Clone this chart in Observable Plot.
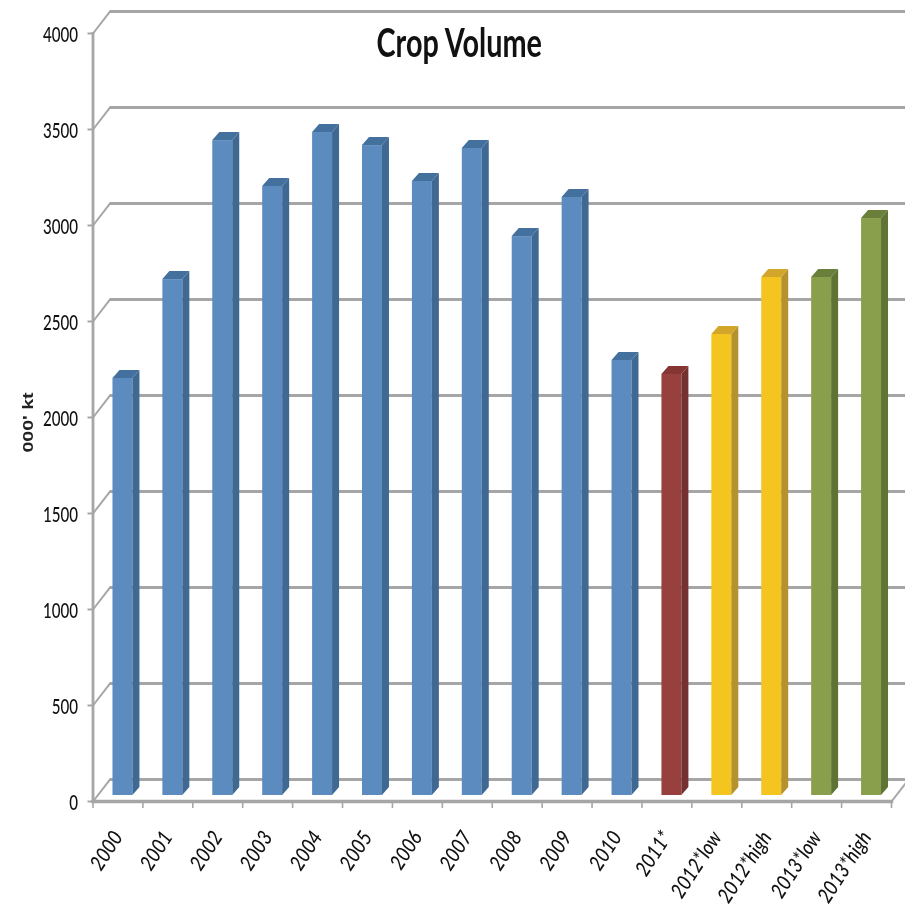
<!DOCTYPE html>
<html>
<head>
<meta charset="utf-8">
<style>
  html, body { margin: 0; padding: 0; background: #fff; }
  svg { display: block; filter: blur(0.65px); }
</style>
<script src="https://cdn.jsdelivr.net/npm/d3@7"></script>
<script src="https://cdn.jsdelivr.net/npm/@observablehq/plot@0.6"></script>
</head>
<body>
<div id="chart"></div>
<script>
const categories = ["2000","2001","2002","2003","2004","2005","2006","2007","2008","2009","2010","2011*","2012*low","2012*high","2013*low","2013*high"];
const volumes = [2172,2687,3411,3172,3453,3385,3198,3370,2911,3115,2266,2193,2401,2698,2698,3005];
const groups = ["actual","actual","actual","actual","actual","actual","actual","actual","actual","actual","actual","2011","2012","2012","2013","2013"];
const groupNames = ["actual","2011","2012","2013"];
const frontColors = ["#5c8cbf","#97403e","#f5c51f","#8a9f4b"];
const sideColors = ["#3f6892","#743130","#b5922c","#5f7434"];
const topColors = ["#44709e","#853633","#d2a62a","#6a7f3a"];
const yTicks = [0,500,1000,1500,2000,2500,3000,3500,4000];

const rows = categories.map((c, i) => ({category: c, volume: volumes[i], group: groups[i]}));
const fontFace = "Lato,'Liberation Sans',sans-serif";
const wall = "#a6a6a6";
const step = (891 - 92.5) / categories.length;

// Extrudes each bar: the side and top faces are derived from the rect the bar mark drew.
function extrude(index, scales, values, dimensions, context, next) {
  const g = next(index, scales, values, dimensions, context);
  const depthX = 7, depthY = 8;
  d3.select(g).selectAll("rect").each(function () {
    const r = d3.select(this);
    const x = +r.attr("x"), y = +r.attr("y"), w = +r.attr("width"), h = +r.attr("height");
    const k = frontColors.indexOf(r.attr("fill"));
    const parent = d3.select(this.parentNode);
    parent.append("polygon")
      .attr("points", [[x+w,y],[x+w+depthX,y-depthY],[x+w+depthX,y+h-depthY],[x+w,y+h]].join(" "))
      .attr("fill", sideColors[k]);
    parent.append("polygon")
      .attr("points", [[x,y],[x+depthX,y-depthY],[x+w+depthX,y-depthY],[x+w,y]].join(" "))
      .attr("fill", topColors[k]);
  });
  return g;
}

const diagonal = {draw(ctx, l) { ctx.moveTo(0, 0); ctx.lineTo(0, -l); }};

const chart = Plot.plot({
  width: 905,
  height: 919,
  marginLeft: 92.5,
  marginRight: 14,
  marginTop: 33,
  marginBottom: 118,
  style: {background: "#fff", overflow: "hidden"},
  x: {type: "band", domain: categories, paddingInner: 0.6, paddingOuter: 0.3, round: false, label: null},
  y: {domain: [0, 4000], label: null},
  color: {type: "ordinal", domain: groupNames, range: frontColors},
  marks: [
    // back wall gridlines and the floor edges running toward them
    Plot.ruleY(yTicks, {dx: 17, dy: -22, stroke: wall, strokeWidth: 3}),
    Plot.vector(yTicks, {y: d => d, frameAnchor: "left", anchor: "start", length: 28, rotate: 37.7, shape: diagonal, stroke: wall, strokeWidth: 2}),
    Plot.vector([0], {y: d => d, frameAnchor: "right", anchor: "start", length: 28, rotate: 37.7, shape: diagonal, stroke: wall, strokeWidth: 2}),
    Plot.frame({anchor: "left", stroke: wall, strokeWidth: 2.8}),
    Plot.frame({anchor: "bottom", stroke: wall, strokeWidth: 3.4}),

    Plot.barY(rows, {x: "category", y: "volume", fill: "group", dx: 5, dy: -6, render: extrude}),

    // value axis: tick marks, then labels
    Plot.axisY({ticks: yTicks, anchor: "left", tickSize: 5, text: null, stroke: wall, strokeWidth: 2, label: null}),
    Plot.axisY({ticks: yTicks, anchor: "left", tickSize: 0, tickPadding: 15, dy: 2, label: null,
      fontFamily: fontFace, fontSize: 21, fontWeight: 500, fill: "#111", tickFormat: d => String(d)}),

    // category axis: ticks at band edges, then slanted labels
    Plot.axisX({anchor: "bottom", tickSize: 7, text: null, dx: -step / 2, stroke: wall, strokeWidth: 1.6, label: null}),
    Plot.axisX({anchor: "bottom", ticks: [categories[categories.length - 1]], tickSize: 7, text: null, dx: step / 2, stroke: wall, strokeWidth: 1.6, label: null}),
    Plot.axisX({anchor: "bottom", tickSize: 0, tickPadding: 32, tickRotate: -57, dx: 0, label: null,
      fontFamily: fontFace, fontSize: 21, fontStyle: "italic", fontWeight: 500, fill: "#111"}),

    Plot.text(["Crop Volume"], {frameAnchor: "top", dx: -33, dy: -5, lineAnchor: "top", ariaLabel: () => "chart title",
      fontFamily: fontFace, fontWeight: 700, fontSize: 40, fill: "#111"}),
    Plot.text(["000' kt"], {frameAnchor: "left", rotate: -90, dx: -64, dy: 5, textAnchor: "middle", ariaLabel: () => "y label",
      fontFamily: "'Liberation Sans',sans-serif", fontWeight: 700, fontSize: 14, fill: "#222"})
  ]
});
document.getElementById("chart").append(chart);

// The reference's lettering is horizontally squeezed (or stretched): fit each text run to that proportion.
function fit(label, factor) {
  chart.querySelectorAll(`[aria-label="${label}"] text, text[aria-label="${label}"]`).forEach(t => {
    t.setAttribute("textLength", t.getComputedTextLength() * factor);
    t.setAttribute("lengthAdjust", "spacingAndGlyphs");
  });
}
fit("y-axis tick label", 0.72);
fit("x-axis tick label", 0.85);
fit("chart title", 0.72);
fit("y label", 1.4);
</script>
</body>
</html>
